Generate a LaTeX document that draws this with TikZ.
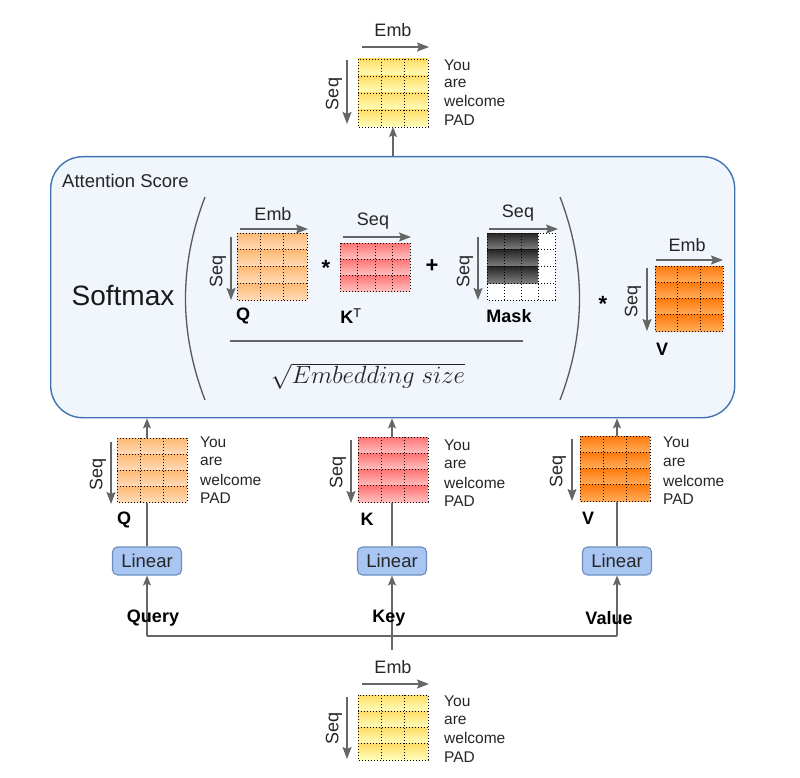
\documentclass[tikz,border=0pt]{standalone}
\usepackage{fontspec}
\setmainfont{Liberation Sans}
\usetikzlibrary{arrows.meta}
\definecolor{arrg}{HTML}{666666}
\definecolor{boxb}{HTML}{3F74B0}
\definecolor{boxf}{HTML}{F1F5FC}
\definecolor{linf}{HTML}{A9C6F2}
\definecolor{linb}{HTML}{6C8EBF}
\tikzset{
  conn/.style={draw=arrg, line width=1.3pt},
  arr/.style={draw=arrg, line width=1.3pt, -{Stealth[length=10pt,width=8pt,inset=2pt]}},
  axarr/.style={draw=arrg, line width=1.6pt, -{Stealth[length=12pt,width=9pt,inset=2pt]}},
  gridl/.style={draw=black, line width=0.9pt, dash pattern=on 0.9pt off 2.1pt},
  wordt/.style={font=\fontsize{15.5}{17}\selectfont, anchor=west, inner sep=0, text=black!85},
  axl/.style={font=\fontsize{18}{20}\selectfont, inner sep=0, text=black!85},
  bl/.style={font=\fontsize{18}{20}\selectfont\bfseries, inner sep=0},
  linbox/.style={draw=linb, fill=linf, line width=1.1pt, rounded corners=5pt, minimum width=69pt, minimum height=28pt, inner sep=0, font=\fontsize{18.5}{20}\selectfont, text=black!85},
  paren/.style={draw=black!65, line width=1.3pt},
  yel/.style={top color=yellow!55!orange!60!white, bottom color=yellow!25!white},
  qor/.style={top color=orange!55!white, bottom color=orange!28!white},
  kred/.style={top color=red!55!white, bottom color=red!25!white},
  vor/.style={top color=orange!90!red!95!white, bottom color=orange!65!white},
  dark/.style={top color=black!85, bottom color=black!50},
}
\newcommand{\mgrid}[6]{%
  \pgfmathsetmacro\mrh{#4/#6}%
  \pgfmathsetmacro\mcw{#3/#5}%
  \pgfmathtruncatemacro\mrr{#6-1}%
  \pgfmathtruncatemacro\mcc{#5-1}%
  \draw[gridl] (#1,#2) rectangle ({#1+#3},{#2+#4});
  \foreach \i in {1,...,\mrr}{\draw[gridl] (#1,{#2+\i*\mrh}) -- ({#1+#3},{#2+\i*\mrh});}
  \foreach \i in {1,...,\mcc}{\draw[gridl] ({#1+\i*\mcw},#2) -- ({#1+\i*\mcw},{#2+#4});}
}
\newcommand{\mtx}[8]{%
  \node[inner sep=0,outer sep=0,minimum width=#4pt,minimum height=#5pt,anchor=north west] (#1) at (#2,#3) {};
  \pgfmathsetmacro\mrh{#5/#7}%
  \foreach \i in {1,...,#7}{\path[#8] (#2,{#3+(\i-1)*\mrh}) rectangle ({#2+#4},{#3+\i*\mrh});}
  \mgrid{#2}{#3}{#4}{#5}{#6}{#7}
}
\newcommand{\words}[6]{%
  \node[wordt] (#1a) at (#2,#3) {You};
  \node[wordt] (#1b) at (#2,#4) {are};
  \node[wordt] (#1c) at (#2,#5) {welcome};
  \node[wordt] (#1d) at (#2,#6) {PAD};
}
\begin{document}
\begin{tikzpicture}[x=1pt,y=-1pt]
\path[use as bounding box] (0,0) rectangle (800,778);

% attention box
\node[draw=boxb, fill=boxf, line width=1.4pt, rounded corners=32pt, minimum width=684pt, minimum height=261pt, anchor=north west, inner sep=0] (box) at (50,156) {};
\node[font=\fontsize{18.5}{20}\selectfont, anchor=west, inner sep=0, text=black!85] (title) at (62,181) {Attention Score};
\node[font=\fontsize{28}{32}\selectfont, inner sep=0, text=black!90] (soft) at (123,296) {Softmax};

% parentheses
\coordinate (pl1) at (205,197); \coordinate (pl2) at (205,400);
\coordinate (pr1) at (560,197); \coordinate (pr2) at (560,400);
\draw[paren] (pl1) .. controls (179,265) and (179,332) .. (pl2);
\draw[paren] (pr1) .. controls (586,265) and (586,332) .. (pr2);

% Q inner
\mtx{qi}{237}{233}{70}{67}{3}{4}{qor}
\draw[axarr] (240,229) -- (308,229);
\node[axl] (qiE) at (273,214) {Emb};
\draw[axarr] (231,237) -- (231,300);
\node[axl, rotate=90] (qiS) at (218,271) {Seq};
\node[bl] (qiL) at (243,316) {Q};
\node[font=\fontsize{22}{24}\selectfont\bfseries, inner sep=0] (star1) at (326,268) {*};

% K^T
\mtx{kt}{340}{243}{70}{48}{4}{3}{kred}
\draw[axarr] (343,237) -- (411,237);
\node[axl] (ktS) at (373,221) {Seq};
\node[bl] (ktL) at (351,316) {K\textsuperscript{\mdseries T}};
\node[font=\fontsize{22}{24}\selectfont\bfseries, inner sep=0] (plus) at (432,266) {+};

% Mask
\mtx{mk}{487}{233}{68}{67}{4}{4}{fill=white}
\pgfmathsetmacro\drh{67/4}
\foreach \i in {1,2,3}{\path[dark] (487,{233+(\i-1)*\drh}) rectangle (538,{233+\i*\drh});}
\mgrid{487}{233}{68}{67}{4}{4}
\draw[axarr] (489,229) -- (558,229);
\node[axl] (mkS) at (518,213) {Seq};
\draw[axarr] (478,237) -- (478,300);
\node[axl, rotate=90] (mkS2) at (465,271) {Seq};
\node[bl] (mkL) at (509,316) {Mask};

% fraction
\coordinate (fl1) at (230,341); \coordinate (fl2) at (523,341);
\draw[draw=black!60, line width=1.2pt] (fl1) -- (fl2);
\node[inner sep=0, text=black!85] (den) at (368,376) {\fontsize{25}{30}\selectfont$\sqrt{Embedding\ size}$};

\node[font=\fontsize{22}{24}\selectfont\bfseries, inner sep=0] (star2) at (603,304) {*};

% V inner
\mtx{vi}{655}{266}{68}{65}{3}{4}{vor}
\draw[axarr] (656,260) -- (723,260);
\node[axl] (viE) at (687,245) {Emb};
\draw[axarr] (647,268) -- (647,331);
\node[axl, rotate=90] (viS) at (633,301) {Seq};
\node[bl] (viL) at (662,349) {V};

% connectors
\node[linbox] (L1) at (147,561) {Linear};
\node[linbox] (L2) at (392,561) {Linear};
\node[linbox] (L3) at (617,561) {Linear};
\coordinate (hl) at (147,636);
\coordinate (hr) at (617,636);
\coordinate (kin) at (392,650);
\draw[conn] (hl) -- (hr);
\draw[arr] (hl) -- (L1.south);
\draw[arr] (hr) -- (L3.south);
\draw[arr] (kin) -- (L2.south);
\draw[arr] (L1.north) -- (L1.north |- box.south);
\draw[arr] (L2.north) -- (L2.north |- box.south);
\draw[arr] (L3.north) -- (L3.north |- box.south);

% top matrix
\mtx{tm}{358}{59}{70}{68}{3}{4}{yel}
\draw[arr] (box.north -| tm.south) -- (tm.south);
\draw[axarr] (362,47) -- (429,47);
\node[axl] (tmE) at (393,30) {Emb};
\draw[axarr] (347,60) -- (347,124);
\node[axl, rotate=90] (tmS) at (334,94) {Seq};
\words{tw}{444}{65}{83}{101}{120}

% Q below
\mtx{qb}{117}{438}{70}{64}{3}{4}{qor}
\draw[axarr] (111,442) -- (111,504);
\node[axl, rotate=90] (qbS) at (98,474) {Seq};
\words{qw}{200}{442}{461}{480}{498}
\node[bl] (qbL) at (124,520) {Q};

% K below
\mtx{kb}{358}{437}{70}{65}{3}{4}{kred}
\draw[axarr] (351,440) -- (351,503);
\node[axl, rotate=90] (kbS) at (338,472) {Seq};
\words{kw}{444}{445}{464}{483}{501}
\node[bl] (kbL) at (367,519) {K};

% V below
\mtx{vb}{580}{436}{70}{65}{3}{4}{vor}
\draw[axarr] (572,439) -- (572,501);
\node[axl, rotate=90] (vbS) at (558,471) {Seq};
\words{vw}{663}{442}{462}{481}{499}
\node[bl] (vbL) at (588,518) {V};

% labels
\node[bl] (qry) at (153,618) {Query};
\node[bl] (key) at (389,618) {Key};
\node[bl] (val) at (609,618) {Value};

% bottom input matrix
\mtx{bm}{358}{695}{70}{65}{3}{4}{yel}
\draw[axarr] (362,684) -- (429,684);
\node[axl] (bmE) at (393,667) {Emb};
\draw[axarr] (347,697) -- (347,759);
\node[axl, rotate=90] (bmS) at (334,728) {Seq};
\words{bw}{444}{701}{720}{738}{757}
\end{tikzpicture}
\end{document}
